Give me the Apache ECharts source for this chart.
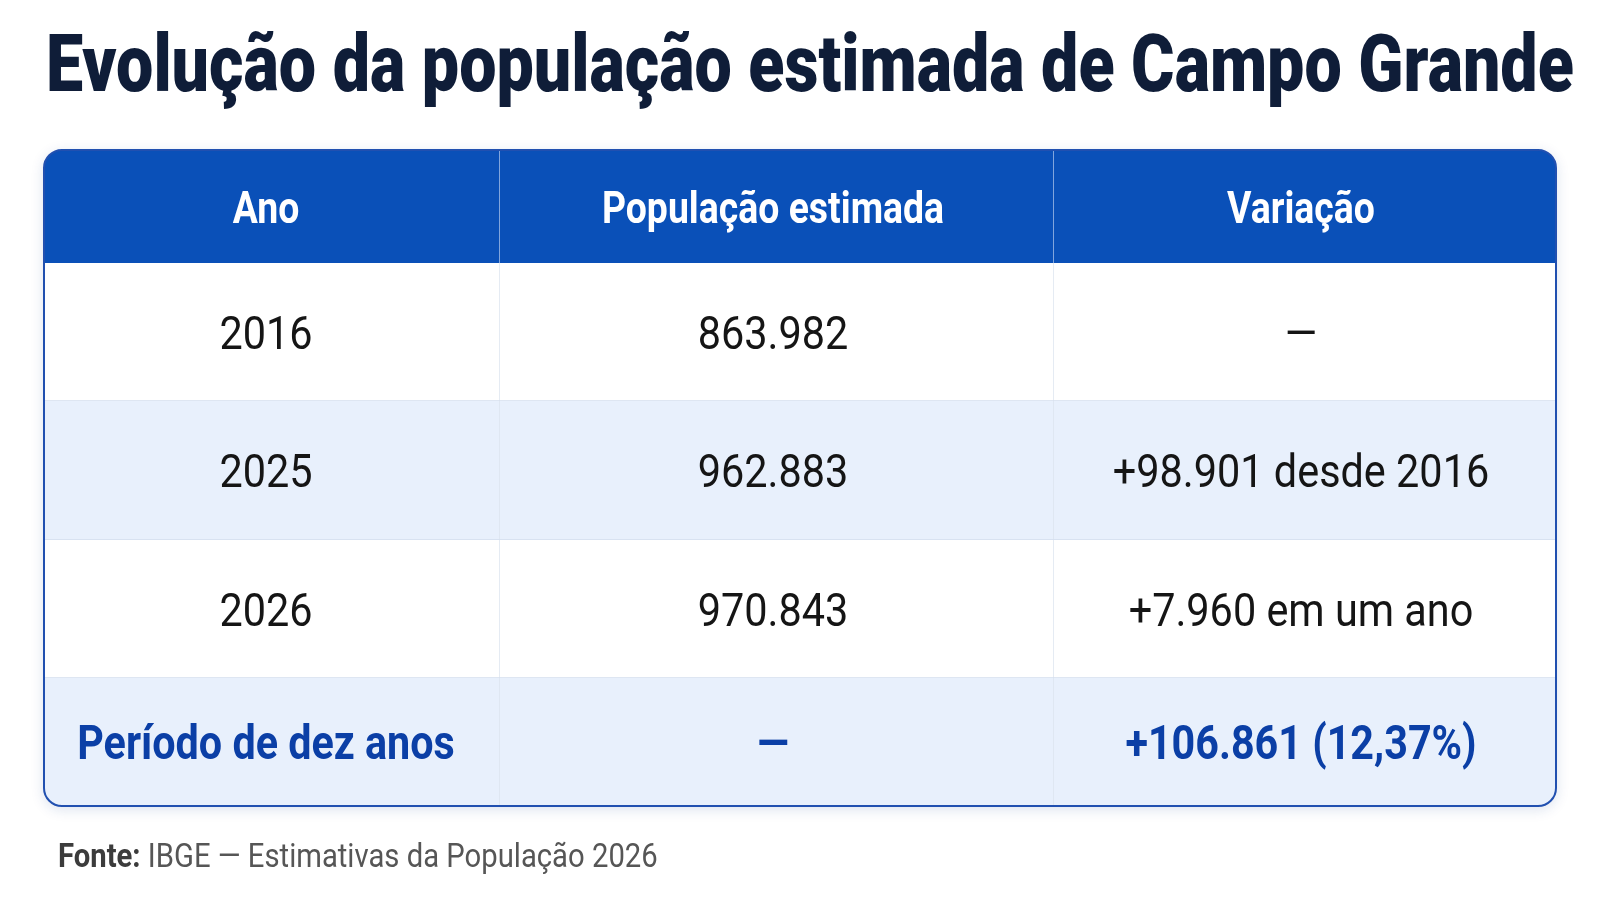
<!DOCTYPE html>
<html>
<head>
<meta charset="utf-8">
<script src="https://cdn.jsdelivr.net/npm/echarts@6/dist/echarts.min.js"></script>
<style>
html,body{margin:0;padding:0;background:#ffffff;}
#chart{width:1600px;height:910px;}
</style>
</head>
<body>
<div id="chart"></div>
<script>
// ---- data ----
const headers = ['Ano', 'População estimada', 'Variação'];
const years = ['2016', '2025', '2026'];
const populations = [863982, 962883, 970843];
const variations = ['—', '+98.901 desde 2016', '+7.960 em um ano'];
const summaryRow = ['Período de dez anos', '—', '+106.861 (12,37%)'];
const titleText = 'Evolução da população estimada de Campo Grande';
const sourceLabel = 'Fonte:';
const sourceText = 'IBGE — Estimativas da População 2026';

// ---- layout / style (not data) ----
const colEdges = [0, 456, 1010, 1512];
const rowEdges = [0, 113, 251, 390, 528, 656];
const R = 18;
const FONT = 'Roboto, "Noto Sans", sans-serif';

function fmt(n){ return String(n).replace(/\B(?=(\d{3})+(?!\d))/g, '.'); }

const rows = [headers];
years.forEach((y, i) => rows.push([y, fmt(populations[i]), variations[i]]));
rows.push(summaryRow);
const nRows = rows.length, nCols = 3;

const cellData = [];
rows.forEach((row, r) => row.forEach((txt, c) => cellData.push([c, r, txt])));

function cellStyle(r){
  if (r === 0) return {fill:'#0a50b8', color:'#ffffff', weight:'bold', size:44, sx:0.85};
  if (r === nRows-1) return {fill:'#e8f0fc', color:'#0b3fa6', weight:'bold', size:48, sx:0.86};
  return {fill: r % 2 === 0 ? '#e8f0fc' : '#ffffff', color:'#151515', weight:'normal', size:46, sx:0.9};
}

function renderCell(params, api){
  const c = api.value(0), r = api.value(1);
  const txt = cellData[params.dataIndex][2];
  const p0 = api.coord([colEdges[c], rowEdges[r]]);
  const p1 = api.coord([colEdges[c+1], rowEdges[r+1]]);
  const x = p0[0], y = p0[1], w = p1[0]-p0[0], h = p1[1]-p0[1];
  let rad = [0,0,0,0];
  if (r === 0 && c === 0) rad = [R,0,0,0];
  if (r === 0 && c === nCols-1) rad = [0,R,0,0];
  if (r === nRows-1 && c === 0) rad = [0,0,0,R];
  if (r === nRows-1 && c === nCols-1) rad = [0,0,R,0];
  const st = cellStyle(r);
  const children = [{
    type:'rect', shape:{x:x, y:y, width:w, height:h, r:rad},
    style:{fill:st.fill}
  }];
  if (c < nCols-1) {
    children.push({type:'line', shape:{x1:x+w, y1:y, x2:x+w, y2:y+h},
      style:{stroke: r === 0 ? '#aac2ea' : '#dde4ef', lineWidth:1.5}});
  }
  if (r > 0 && r < nRows-1) {
    children.push({type:'line', shape:{x1:x, y1:y+h, x2:x+w, y2:y+h},
      style:{stroke:'#d3deee', lineWidth:1.5}});
  }
  children.push({
    type:'text', x:x+w/2-(c === 0 ? 6 : 4), y:y+h/2+st.size*0.05+3, scaleX:st.sx,
    style:{text:txt, fill:st.color, font: st.weight+' '+st.size+'px '+FONT, align:'center', verticalAlign:'middle'}
  });
  return {type:'group', children:children};
}

function renderFrame(fill){
  return function(params, api){
    const p0 = api.coord([colEdges[0], rowEdges[0]]);
    const p1 = api.coord([colEdges[nCols], rowEdges[nRows]]);
    return {type:'rect', shape:{x:p0[0], y:p0[1], width:p1[0]-p0[0], height:p1[1]-p0[1], r:R},
      style: fill ? {fill:'#ffffff', shadowBlur:14, shadowColor:'rgba(20,60,140,0.16)', shadowOffsetY:3}
                  : {fill:'none', stroke:'#2150b0', lineWidth:2}};
  };
}

const chart = echarts.init(document.getElementById('chart'));
chart.setOption({
  backgroundColor:'#ffffff',
  animation:false,
  graphic:[{
    type:'text', x:46, y:71, scaleX:0.84, silent:true,
    style:{text:titleText, fill:'#0f1d38', font:'900 79px '+FONT, align:'left', verticalAlign:'middle'}
  },{
    type:'text', x:58, y:858, scaleX:0.86, silent:true,
    style:{text:'{b|'+sourceLabel+'} '+sourceText, fill:'#565656', font:'normal 34px '+FONT,
      align:'left', verticalAlign:'middle',
      rich:{b:{fill:'#3c3c3c', font:'bold 34px '+FONT}}}
  }],
  grid:{left:44, top:150, width:colEdges[nCols], height:rowEdges[nRows]},
  xAxis:{type:'value', min:0, max:colEdges[nCols], show:false},
  yAxis:{type:'value', min:0, max:rowEdges[nRows], inverse:true, show:false},
  series:[
    {type:'custom', data:[[0,0]], renderItem:renderFrame(true), z:1, silent:true},
    {type:'custom', data:cellData, renderItem:renderCell, z:2, silent:true, clip:false},
    {type:'custom', data:[[0,0]], renderItem:renderFrame(false), z:3, silent:true}
  ]
});
</script>
</body>
</html>
